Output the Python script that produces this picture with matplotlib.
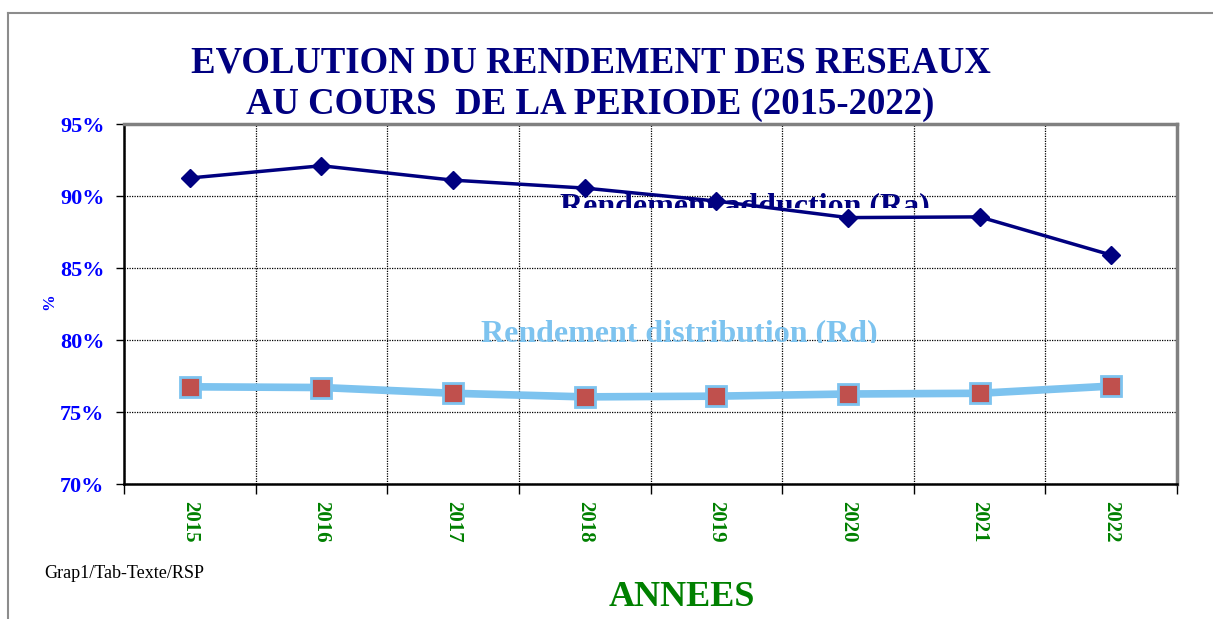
import matplotlib
matplotlib.use("Agg")
import matplotlib.pyplot as plt
from matplotlib.lines import Line2D
from matplotlib.patches import Rectangle
from matplotlib.ticker import FixedLocator, FuncFormatter

# data
annees = ["2015", "2016", "2017", "2018", "2019", "2020", "2021", "2022"]
rend_adduction = [91.25, 92.1, 91.1, 90.55, 89.65, 88.5, 88.55, 85.9]
rend_distribution = [76.75, 76.7, 76.3, 76.05, 76.1, 76.25, 76.3, 76.8]
y_ticks = [70, 75, 80, 85, 90, 95]

W, H = 1213, 619
navy = "#000080"
light_blue = "#7DC3EF"
brick = "#C0504D"
green = "#008000"
serif = ["Liberation Serif", "DejaVu Serif"]

plt.rcParams["font.family"] = serif


def px_box(left, top, right, bottom):
    # pixel box (from top-left) -> figure fraction [l, b, w, h]
    return [left / W, (H - bottom) / H, (right - left) / W, (bottom - top) / H]


fig = plt.figure(figsize=(W / 100, H / 100), dpi=100)
ax = fig.add_axes(px_box(124, 124, 1177, 484))

x = list(range(len(annees)))

# series
ax.plot(x, rend_adduction, color=navy, linewidth=2.5, marker="D",
        markersize=9, markerfacecolor=navy, markeredgecolor=navy, zorder=4)
ax.plot(x, rend_distribution, color=light_blue, linewidth=5.5, marker="s",
        markersize=14, markerfacecolor=brick, markeredgecolor=light_blue,
        markeredgewidth=2, zorder=4)

ax.set_xlim(-0.5, len(annees) - 0.5)
ax.set_ylim(70, 95)

# x axis: labels at centres, ticks + grid at the boundaries
ax.xaxis.set_major_locator(FixedLocator(x))
ax.set_xticklabels(annees)
ax.xaxis.set_minor_locator(FixedLocator([i - 0.5 for i in range(len(annees) + 1)]))
ax.tick_params(axis="x", which="major", length=0, pad=12)
ax.tick_params(axis="x", which="minor", length=7, width=1, direction="out", color="black")
for lab in ax.get_xticklabels():
    lab.set_rotation(-90)
    lab.set_color(green)
    lab.set_fontweight("bold")
    lab.set_fontsize(15)
    lab.set_va("top")
    lab.set_ha("center")

# y axis
ax.yaxis.set_major_locator(FixedLocator(y_ticks))
ax.yaxis.set_major_formatter(FuncFormatter(lambda v, p: "%d%%" % v))
ax.tick_params(axis="y", which="major", length=6, width=1, direction="out",
               pad=8, labelsize=16, labelcolor="#0000FF")
for lab in ax.get_yticklabels():
    lab.set_fontweight("bold")

# dotted grid
ax.grid(True, axis="y", which="major", linestyle=(0, (1, 1)), color="black", linewidth=0.9)
ax.grid(True, axis="x", which="minor", linestyle=(0, (1, 1)), color="black", linewidth=0.9)
ax.set_axisbelow(True)

# frame of the plot area
ax.spines["left"].set_color("black")
ax.spines["left"].set_linewidth(1.8)
ax.spines["bottom"].set_color("black")
ax.spines["bottom"].set_linewidth(1.8)
ax.spines["top"].set_color("#808080")
ax.spines["top"].set_linewidth(2.5)
ax.spines["right"].set_color("#808080")
ax.spines["right"].set_linewidth(2.5)

# series labels (cut at the bottom like in the original)
t_ra = ax.text(4.22, 88.75, "Rendement adduction (Ra)", color=navy,
               fontsize=23, fontweight="bold", ha="center", va="baseline", zorder=3)
t_ra.set_clip_path(Rectangle((0, (H - 208) / H), 1, 1, transform=fig.transFigure))
t_ra.set_clip_on(True)
t_rd = ax.text(3.72, 79.93, "Rendement distribution (Rd)", color=light_blue,
               fontsize=23, fontweight="bold", ha="center", va="baseline", zorder=3)
t_rd.set_clip_path(Rectangle((0, (H - 343) / H), 1, 1, transform=fig.transFigure))
t_rd.set_clip_on(True)

# title and other texts
fig.text(591 / W, 1 - 63 / H, "EVOLUTION DU RENDEMENT DES RESEAUX", color=navy,
         fontsize=26.5, fontweight="bold", ha="center", va="center")
fig.text(590 / W, 1 - 105 / H, "AU COURS  DE LA PERIODE (2015-2022)", color=navy,
         fontsize=26.5, fontweight="bold", ha="center", va="center")
fig.text(49 / W, 1 - 302 / H, "%", color="#0000FF", fontsize=12, fontweight="bold",
         rotation=90, ha="center", va="center")
fig.text(682 / W, 1 - 598 / H, "ANNEES", color=green, fontsize=26, fontweight="bold",
         ha="center", va="center")
fig.text(44 / W, 1 - 573 / H, "Grap1/Tab-Texte/RSP", color="black", fontsize=13,
         ha="left", va="center")

# outer chart border (left and top visible)
fig.add_artist(Line2D([8 / W, 8 / W], [0, 1 - 13 / H], transform=fig.transFigure,
                      color="#8C8C8C", linewidth=1.5))
fig.add_artist(Line2D([8 / W, 1], [1 - 13 / H, 1 - 13 / H], transform=fig.transFigure,
                      color="#8C8C8C", linewidth=1.5))

fig.savefig("out.png", dpi=100, facecolor="white")
